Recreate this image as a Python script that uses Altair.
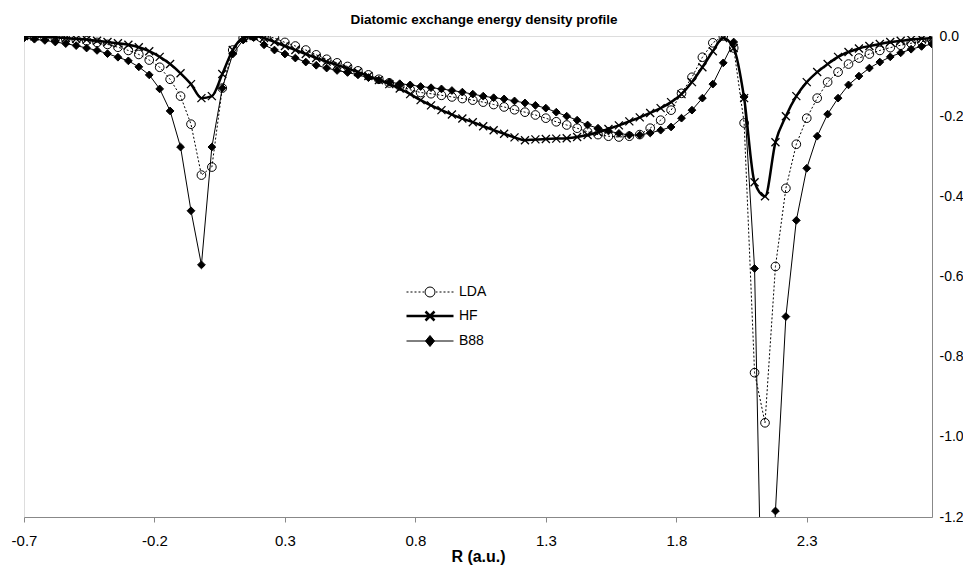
import altair as alt
import pandas as pd

# ---------------- data ----------------
R = [-0.70, -0.66, -0.62, -0.58, -0.54, -0.50, -0.46, -0.42, -0.38, -0.34,
     -0.30, -0.26, -0.22, -0.18, -0.14, -0.10, -0.06, -0.02, 0.02, 0.06,
     0.10, 0.14, 0.18, 0.22, 0.26, 0.30, 0.34, 0.38, 0.42, 0.46,
     0.50, 0.54, 0.58, 0.62, 0.66, 0.70, 0.74, 0.78, 0.82, 0.86,
     0.90, 0.94, 0.98, 1.02, 1.06, 1.10, 1.14, 1.18, 1.22, 1.26,
     1.30, 1.34, 1.38, 1.42, 1.46, 1.50, 1.54, 1.58, 1.62, 1.66,
     1.70, 1.74, 1.78, 1.82, 1.86, 1.90, 1.94, 1.98, 2.02, 2.06,
     2.10, 2.14, 2.18, 2.22, 2.26, 2.30, 2.34, 2.38, 2.42, 2.46,
     2.50, 2.54, 2.58, 2.62, 2.66, 2.70, 2.74, 2.78]

LDA = [0.0, -0.001, -0.003, -0.005, -0.007, -0.009, -0.012, -0.016, -0.021, -0.028,
       -0.036, -0.046, -0.060, -0.078, -0.108, -0.150, -0.220, -0.347, -0.327, -0.130,
       -0.035, -0.005, 0.0, 0.0, -0.005, -0.016, -0.025, -0.035, -0.047, -0.058,
       -0.067, -0.076, -0.087, -0.097, -0.108, -0.117, -0.125, -0.134, -0.141, -0.144,
       -0.148, -0.152, -0.156, -0.160, -0.165, -0.171, -0.177, -0.184, -0.190, -0.197,
       -0.205, -0.214, -0.222, -0.230, -0.239, -0.246, -0.250, -0.252, -0.250, -0.246,
       -0.230, -0.210, -0.185, -0.143, -0.103, -0.053, -0.017, 0.0, -0.030, -0.217,
       -0.840, -0.965, -0.575, -0.380, -0.270, -0.205, -0.155, -0.115, -0.090, -0.070,
       -0.055, -0.045, -0.036, -0.029, -0.023, -0.018, -0.014, -0.010]

HF = [0.0, -0.001, -0.002, -0.003, -0.005, -0.007, -0.009, -0.012, -0.015, -0.018,
      -0.022, -0.028, -0.038, -0.052, -0.070, -0.093, -0.120, -0.155, -0.150, -0.095,
      -0.035, -0.005, 0.0, -0.005, -0.015, -0.025, -0.035, -0.045, -0.055, -0.064,
      -0.072, -0.081, -0.090, -0.100, -0.110, -0.120, -0.131, -0.145, -0.160, -0.173,
      -0.185, -0.196, -0.206, -0.215, -0.225, -0.235, -0.244, -0.253, -0.260, -0.258,
      -0.257, -0.256, -0.255, -0.252, -0.247, -0.240, -0.232, -0.223, -0.213, -0.203,
      -0.192, -0.180, -0.165, -0.145, -0.115, -0.078, -0.038, -0.005, -0.030, -0.155,
      -0.365, -0.400, -0.265, -0.200, -0.150, -0.115, -0.090, -0.070, -0.052, -0.040,
      -0.031, -0.025, -0.020, -0.015, -0.012, -0.009, -0.007, -0.005]

B88 = [-0.005, -0.008, -0.011, -0.015, -0.019, -0.024, -0.030, -0.036, -0.044, -0.053,
       -0.062, -0.077, -0.097, -0.132, -0.187, -0.277, -0.436, -0.571, -0.277, -0.130,
       -0.045, -0.010, -0.004, -0.022, -0.035, -0.045, -0.055, -0.065, -0.073, -0.080,
       -0.086, -0.091, -0.097, -0.104, -0.110, -0.115, -0.119, -0.122, -0.126, -0.129,
       -0.132, -0.136, -0.140, -0.145, -0.150, -0.154, -0.157, -0.162, -0.167, -0.173,
       -0.180, -0.190, -0.200, -0.210, -0.222, -0.230, -0.237, -0.243, -0.247, -0.247,
       -0.242, -0.235, -0.227, -0.205, -0.185, -0.155, -0.120, -0.067, -0.015, -0.152,
       -0.580, -1.880, -1.185, -0.700, -0.460, -0.330, -0.250, -0.195, -0.155, -0.122,
       -0.100, -0.080, -0.065, -0.052, -0.042, -0.033, -0.026, -0.020]

SERIES = ["LDA", "HF", "B88"]
X_TICKS = [-0.7, -0.2, 0.3, 0.8, 1.3, 1.8, 2.3]
Y_TICKS = [0.0, -0.2, -0.4, -0.6, -0.8, -1.0, -1.2]
TITLE = "Diatomic exchange energy density profile"
X_TITLE = "R (a.u.)"

FONT = "Liberation Sans"

df_lda = pd.DataFrame({"R": R, "E": LDA, "series": "LDA"})
df_hf = pd.DataFrame({"R": R, "E": HF, "series": "HF"})
df_b88 = pd.DataFrame({"R": R, "E": B88, "series": "B88"})
df_all = pd.concat([df_lda, df_hf, df_b88], ignore_index=True)

label_expr = ("datum.value < 0 ? '-' + format(-datum.value, '.1f') "
              ": format(datum.value, '.1f')")

xenc = alt.X("R:Q",
             scale=alt.Scale(domain=[-0.7, 2.78], nice=False, zero=False),
             axis=alt.Axis(values=X_TICKS, labelExpr=label_expr, title=X_TITLE,
                           grid=False, tickSize=5, labelPadding=11, titlePadding=0,
                           labelFlush=False, labelFontSize=15, titleFontSize=16,
                           titleFontWeight="bold"))
yenc = alt.Y("E:Q",
             scale=alt.Scale(domain=[-1.2, 0.0], nice=False, zero=False),
             axis=alt.Axis(orient="right", values=Y_TICKS, labelExpr=label_expr,
                           title=None, grid=False, ticks=False, labelPadding=7,
                           labelFlush=False, labelFontSize=14, labelAlign="left",
                           labelBaseline="middle"))

X_MARK = "M-1,-1L1,1M-1,1L1,-1"

hf_line = alt.Chart(df_hf).mark_line(color="black", strokeWidth=2.5,
                                     interpolate="monotone", clip=True).encode(x=xenc, y=yenc)
hf_pts = alt.Chart(df_hf).mark_point(shape=X_MARK, filled=False, color="black",
                                     size=64, strokeWidth=1.3, opacity=1,
                                     clip=True).encode(x=xenc, y=yenc)

b88_line = alt.Chart(df_b88).mark_line(color="black", strokeWidth=1,
                                       clip=True).encode(x=xenc, y=yenc)
b88_pts = alt.Chart(df_b88).mark_point(shape="diamond", filled=True, color="black",
                                       stroke="black", strokeWidth=1, size=60, opacity=1,
                                       clip=True).encode(x=xenc, y=yenc)

lda_line = alt.Chart(df_lda).mark_line(color="black", strokeWidth=1, strokeDash=[2, 2],
                                       clip=True).encode(x=xenc, y=yenc)
lda_pts = alt.Chart(df_lda).mark_point(shape="circle", filled=False, color="black",
                                       size=75, strokeWidth=1, opacity=1,
                                       clip=True).encode(x=xenc, y=yenc)

# legend symbols: a line sample with its marker drawn as one path
P_LDA = ("M-4.7,0H-4.3M-3.9,0H-3.5M-3.1,0H-2.7M-2.3,0H-1.9M-1.5,0H-1.2"
         "M1.2,0H1.5M1.9,0H2.3M2.7,0H3.1M3.5,0H3.9M4.3,0H4.7"
         "M1,0A1,1,0,1,1,-1,0A1,1,0,1,1,1,0Z")
P_HF = "M-4.7,0H4.7M-0.9,-0.9L0.9,0.9M-0.9,0.9L0.9,-0.9"
P_B88 = "M-4.7,0H4.7M0,-1.1L0.9,0L0,1.1L-0.9,0Z"

leg = alt.Legend(orient="none", legendX=399, legendY=249, title=None,
                 symbolSize=100, symbolOpacity=1, symbolStrokeColor="black",
                 labelFont=FONT, labelFontSize=14, labelColor="black",
                 labelOffset=22, rowPadding=7, padding=0)

legend_layer = alt.Chart(df_all).mark_point(opacity=0, stroke="black", size=100,
                                            clip=True).encode(
    x=xenc, y=yenc,
    shape=alt.Shape("series:N", scale=alt.Scale(domain=SERIES, range=[P_LDA, P_HF, P_B88]),
                    legend=leg),
    fill=alt.Fill("series:N", scale=alt.Scale(domain=SERIES, range=["white", "black", "black"]),
                  legend=leg),
    stroke=alt.Stroke("series:N", scale=alt.Scale(domain=SERIES, range=["black", "black", "black"]),
                      legend=leg),
    strokeWidth=alt.StrokeWidth("series:N",
                                scale=alt.Scale(type="ordinal", domain=SERIES, range=[1, 2.5, 1]),
                                legend=leg),
)

chart = alt.layer(
    hf_line, b88_line, lda_line, hf_pts, b88_pts, lda_pts, legend_layer
).properties(
    width=908, height=481,
    title=alt.TitleParams(TITLE, font=FONT, fontSize=13.5, fontWeight="bold",
                          anchor="middle", color="black", offset=11, frame="group",
                          dx=6, dy=8),
    autosize=alt.AutoSizeParams(type="none"),
    padding={"left": 16, "top": 28, "right": 31, "bottom": 50},
).configure_view(
    stroke="black", strokeWidth=1
).configure_axis(
    labelFont=FONT, titleFont=FONT, labelColor="black", titleColor="black",
    domainColor="black", tickColor="black", domainWidth=1
).configure(background="white")

chart.save("out.html", embed_options={"renderer": "svg", "actions": False})
